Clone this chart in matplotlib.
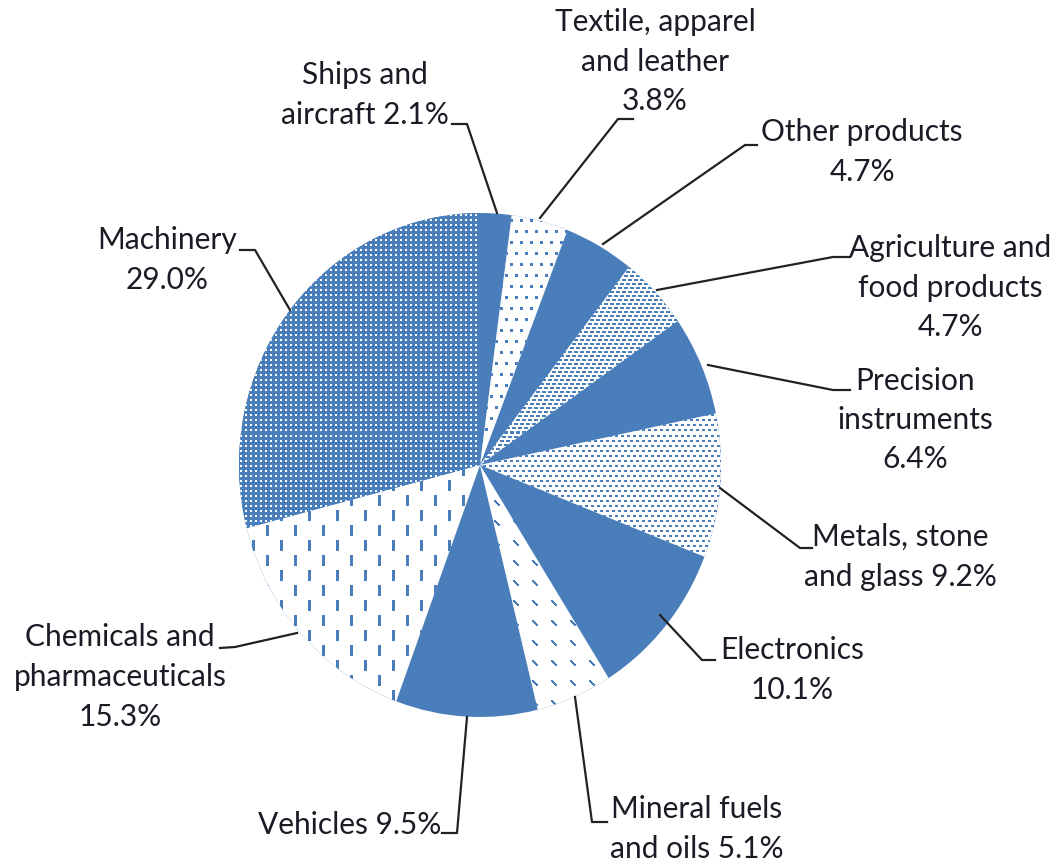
import numpy as np
import matplotlib.pyplot as plt

# shares of the pie, clockwise from 12 o'clock
names = ["Ships and\naircraft {}%", "Textile, apparel\nand leather\n{}%",
         "Other products\n{}%", "Agriculture and\nfood products\n{}%",
         "Precision\ninstruments\n{}%", "Metals, stone\nand glass {}%",
         "Electronics\n{}%", "Mineral fuels\nand oils {}%", "Vehicles {}%",
         "Chemicals and\npharmaceuticals\n{}%", "Machinery\n{}%"]
shares = [2.1, 3.8, 4.7, 4.7, 6.4, 9.2, 10.1, 5.1, 9.5, 15.3, 29.0]
fills = ["solid", "sparse", "solid", "hdash", "solid", "dense",
         "solid", "diag", "solid", "vdash", "grid"]

# label block centre and leader line, in picture pixels
label_xy = [(365, 95), (655, 62), (862, 152), (950, 288), (915, 420),
            (900, 557), (792, 670), (697, 829), (350, 825), (120, 677),
            (167, 260)]
leaders = [[(452, 124), (467, 124), (497, 213)],
           [(633, 119), (618, 119), (540, 218)],
           [(757, 145), (745, 145), (603, 244)],
           [(850, 257), (833, 257), (657, 290)],
           [(850, 390), (833, 390), (708, 365)],
           [(812, 548), (800, 548), (720, 488)],
           [(715, 660), (702, 660), (660, 615)],
           [(607, 822), (592, 822), (575, 697)],
           [(442, 833), (457, 833), (467, 717)],
           [(220, 648), (235, 647), (297, 633)],
           [(240, 250), (255, 250), (290, 310)]]

W, H = 1053, 863
BLUE = np.array([74, 126, 187]) / 255
WHITE = np.array([1.0, 1.0, 1.0])
cx, cy, rx, ry = 480, 465, 241, 252
k = rx / ry


def to_data(px, py):
    return px, (H - py) * k


yy, xx = np.mgrid[0:H, 0:W]


def texture(kind):
    if kind == "grid":
        mask = (xx % 5 < 2) & (yy % 5 < 2)
        bg, fg = BLUE, WHITE
    else:
        bg, fg = WHITE, BLUE
        if kind == "dense":
            mask = ((xx + 3 * ((yy // 5) % 2)) % 6 < 3) & (yy % 5 < 2)
        elif kind == "sparse":
            mask = ((xx + 5 * ((yy // 11) % 2)) % 10 < 3) & (yy % 11 < 3)
        elif kind == "hdash":
            mask = (yy % 4 < 2) & ((xx + (yy // 4) * 2) % 6 < 4)
        elif kind == "diag":
            mask = np.zeros((H, W), bool)
            for d in range(5):
                mask |= ((xx - d) % 19 < 2) & ((yy - d) % 20 < 2)
        else:  # vdash
            mask = (((xx % 28) < 3) & ((yy % 30) < 11)) | \
                   ((((xx + 14) % 28) < 3) & (((yy + 15) % 30) < 11))
    img = np.empty((H, W, 3))
    img[:] = bg
    img[mask] = fg
    return img


plt.rcParams['font.family'] = ['Lato', 'DejaVu Sans']
fig = plt.figure(figsize=(W / 100, H / 100), dpi=100)
ax = fig.add_axes([0, 0, 1, 1])

wedges, _ = ax.pie(shares, startangle=90, counterclock=False, radius=rx,
                   center=to_data(cx, cy), colors=[BLUE] * len(shares),
                   wedgeprops=dict(linewidth=0))
ax.set_aspect('auto')
ax.axis('off')

for w, kind in zip(wedges, fills):
    if kind == "solid":
        continue
    im = ax.imshow(texture(kind), extent=(0, W, 0, H * k), aspect='auto',
                   interpolation='none', zorder=2)
    im.set_clip_path(w)

for name, val, (lx, ly), pts in zip(names, shares, label_xy, leaders):
    ax.text(*to_data(lx, ly), name.format(val), ha='center', va='center',
            fontsize=21.5, color='#1c1a24', linespacing=1.5, zorder=4)
    xs, ys = zip(*[to_data(px, py) for px, py in pts])
    ax.plot(xs, ys, color='#222222', lw=1.6, zorder=3)

ax.set_xlim(0, W)
ax.set_ylim(0, H * k)
fig.savefig('out.png', dpi=100)
